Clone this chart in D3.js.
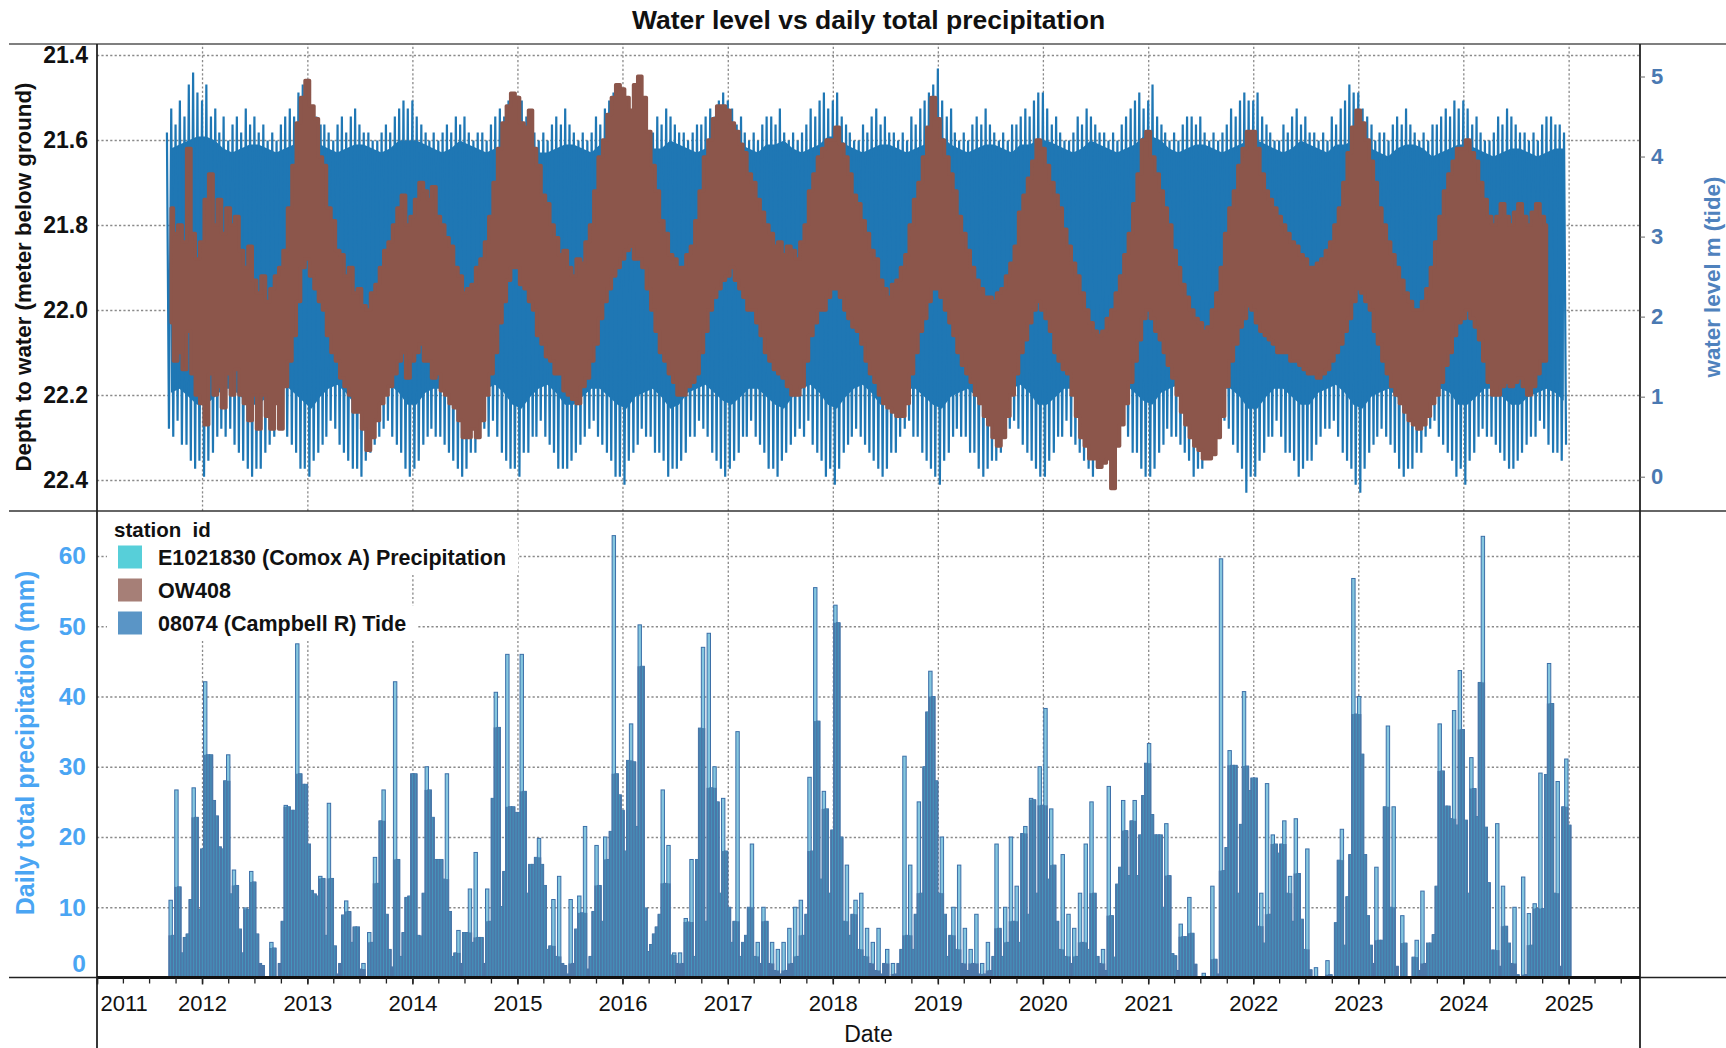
<!DOCTYPE html>
<html><head><meta charset="utf-8">
<script src="https://cdn.jsdelivr.net/npm/d3@7"></script>
<style>
body{margin:0;background:#fff}
svg{display:block}
text{font-family:"Liberation Sans",Arial,Helvetica,sans-serif}
</style>
</head><body>
<svg id="c" width="1726" height="1048"></svg>
<script>
// ---------------- DATA ----------------
const yearTicks = ["2011","2012","2013","2014","2015","2016","2017","2018","2019","2020","2021","2022","2023","2024","2025"];
const depthTicks = [21.4,21.6,21.8,22.0,22.2,22.4];
const tideTicks = [0,1,2,3,4,5];
const precipTicks = [0,10,20,30,40,50,60];
const legendTitle = "station\u00a0\u00a0id";
const legendLabels = ["E1021830 (Comox A) Precipitation","OW408","08074 (Campbell R) Tide"];
const legendColors = ["#57cfd9","#a67f77","#5a95c6"];

// 08074 (Campbell R) tide: semi-monthly spring-tide highs / lows (m), from 2011-09-01, samples on 1st & 16th
const tideHi = [
 4.3,4.6,4.4,4.7,4.5,4.9,5.05,4.8,
 4.7,4.9,4.5,4.6,4.3,4.5,4.2,4.4,4.5,4.3,4.6,4.4,4.5,4.3,4.4,4.2,4.3,4.2,4.4,4.5,4.6,4.5,4.8,4.9,
 4.8,4.6,4.5,4.4,4.4,4.3,4.2,4.4,4.5,4.3,4.5,4.6,4.4,4.3,4.3,4.2,4.2,4.3,4.4,4.3,4.5,4.6,4.7,4.6,
 4.7,4.5,4.4,4.3,4.2,4.3,4.2,4.3,4.4,4.3,4.5,4.4,4.5,4.3,4.2,4.3,4.3,4.2,4.4,4.5,4.6,4.5,4.7,4.8,
 4.6,4.7,4.5,4.3,4.3,4.2,4.3,4.2,4.4,4.5,4.4,4.6,4.4,4.3,4.2,4.3,4.2,4.3,4.5,4.4,4.6,4.7,4.8,4.7,
 4.8,4.6,4.5,4.4,4.3,4.4,4.2,4.3,4.5,4.4,4.6,4.5,4.4,4.3,4.3,4.2,4.3,4.4,4.4,4.5,4.6,4.5,4.7,4.8,
 4.7,4.6,4.4,4.5,4.3,4.2,4.3,4.2,4.4,4.5,4.5,4.4,4.6,4.3,4.2,4.3,4.2,4.3,4.4,4.6,4.5,4.7,4.8,4.6,
 4.7,4.8,4.5,4.4,4.3,4.2,4.2,4.4,4.3,4.5,4.6,4.4,4.5,4.3,4.3,4.2,4.3,4.2,4.5,4.4,4.6,4.7,4.8,4.9,
 5.1,4.7,4.5,4.6,4.3,4.2,4.3,4.2,4.4,4.5,4.4,4.6,4.4,4.3,4.2,4.3,4.2,4.4,4.4,4.5,4.6,4.5,4.7,4.8,
 4.8,4.6,4.4,4.5,4.3,4.2,4.2,4.3,4.5,4.4,4.6,4.5,4.4,4.3,4.3,4.2,4.3,4.2,4.4,4.5,4.6,4.7,4.8,4.6,
 4.7,4.9,4.5,4.4,4.3,4.2,4.3,4.2,4.4,4.5,4.5,4.4,4.5,4.3,4.2,4.3,4.2,4.3,4.4,4.6,4.5,4.7,4.8,4.7,
 4.7,4.8,4.5,4.4,4.3,4.2,4.2,4.4,4.3,4.5,4.6,4.4,4.5,4.3,4.3,4.2,4.3,4.2,4.5,4.4,4.6,4.7,4.9,4.8,
 4.8,4.6,4.5,4.4,4.2,4.3,4.3,4.2,4.4,4.5,4.4,4.6,4.4,4.3,4.2,4.3,4.2,4.4,4.4,4.5,4.6,4.5,4.7,4.6,
 4.7,4.6,4.4,4.5,4.3,4.2,4.2,4.3,4.5,4.4,4.6,4.5,4.4,4.3,4.3,4.2,4.3,4.2,4.4,4.5,4.5,4.4,4.4,4.3
];
const tideLo = [
 0.6,0.5,0.7,0.4,0.4,0.2,0.1,0.2,
 0.0,0.2,0.3,0.5,0.6,0.5,0.6,0.4,0.3,0.2,0.1,0.0,0.1,0.1,0.3,0.4,0.5,0.7,0.6,0.5,0.4,0.3,0.1,0.1,
 0.0,0.2,0.3,0.4,0.5,0.7,0.6,0.4,0.3,0.2,0.1,0.1,0.0,0.2,0.3,0.4,0.5,0.6,0.7,0.5,0.4,0.3,0.1,0.0,
 0.1,0.2,0.4,0.5,0.6,0.5,0.5,0.4,0.3,0.2,0.1,0.0,0.1,0.3,0.3,0.5,0.6,0.5,0.7,0.5,0.3,0.2,0.1,0.1,
 0.0,0.3,0.3,0.5,0.5,0.7,0.5,0.4,0.3,0.1,0.1,0.1,0.2,0.3,0.4,0.5,0.6,0.7,0.5,0.4,0.3,0.2,0.0,0.0,
 -0.1,0.2,0.3,0.4,0.6,0.5,0.5,0.3,0.3,0.2,0.0,0.1,0.1,0.2,0.3,0.5,0.5,0.7,0.6,0.5,0.3,0.2,0.1,0.0,
 0.1,0.2,0.3,0.5,0.5,0.7,0.5,0.4,0.3,0.1,0.1,0.0,0.2,0.3,0.4,0.5,0.6,0.5,0.7,0.4,0.3,0.2,0.0,0.1,
 -0.1,0.1,0.3,0.4,0.5,0.6,0.5,0.4,0.3,0.2,0.1,0.0,0.1,0.3,0.3,0.5,0.6,0.7,0.5,0.5,0.3,0.2,0.1,0.0,
 -0.1,0.2,0.3,0.5,0.6,0.5,0.5,0.3,0.3,0.1,0.0,0.1,0.2,0.2,0.3,0.5,0.6,0.7,0.6,0.4,0.3,0.2,0.1,0.0,
 0.0,0.2,0.3,0.5,0.5,0.7,0.5,0.4,0.3,0.2,0.1,0.0,0.1,0.2,0.4,0.5,0.6,0.5,0.7,0.5,0.3,0.3,0.1,0.0,
 0.0,0.1,0.3,0.4,0.6,0.5,0.5,0.4,0.3,0.2,0.0,0.1,0.1,0.3,0.3,0.5,0.5,0.7,0.6,0.4,0.3,0.1,-0.2,0.0,
 0.0,0.2,0.3,0.5,0.5,0.7,0.5,0.3,0.3,0.2,0.0,0.1,0.2,0.2,0.4,0.5,0.6,0.6,0.7,0.5,0.3,0.2,0.1,-0.1,
 -0.2,0.1,0.3,0.4,0.5,0.6,0.5,0.4,0.3,0.1,0.0,0.1,0.1,0.3,0.3,0.5,0.6,0.7,0.5,0.4,0.3,0.2,0.0,0.1,
 -0.1,0.2,0.3,0.5,0.6,0.5,0.5,0.4,0.3,0.2,0.1,0.1,0.2,0.3,0.4,0.5,0.5,0.7,0.6,0.4,0.3,0.3,0.2,0.4
];
// tide: monthly dense-core (neap-tide) high / low, from Sep 2011
const tideCoreHi = [
 4.1,4.15,4.2,4.25,
 4.25,4.2,4.1,4.05,4.1,4.15,4.15,4.1,4.05,4.1,4.15,4.25,
 4.25,4.15,4.1,4.05,4.1,4.15,4.15,4.1,4.05,4.1,4.2,4.2,
 4.2,4.15,4.1,4.05,4.1,4.2,4.15,4.1,4.05,4.1,4.15,4.25,
 4.2,4.15,4.05,4.05,4.1,4.15,4.15,4.1,4.05,4.15,4.2,4.25,
 4.25,4.15,4.1,4.1,4.1,4.2,4.15,4.1,4.05,4.1,4.15,4.2,
 4.2,4.15,4.1,4.05,4.15,4.15,4.2,4.1,4.05,4.1,4.15,4.25,
 4.25,4.15,4.1,4.05,4.1,4.15,4.15,4.1,4.05,4.1,4.15,4.25,
 4.25,4.15,4.1,4.05,4.1,4.15,4.15,4.1,4.05,4.15,4.15,4.2,
 4.2,4.15,4.1,4.05,4.1,4.2,4.15,4.1,4.05,4.1,4.15,4.25,
 4.25,4.2,4.1,4.05,4.1,4.15,4.15,4.1,4.05,4.1,4.15,4.2,
 4.2,4.15,4.1,4.05,4.1,4.2,4.15,4.1,4.05,4.15,4.15,4.2,
 4.2,4.1,4.05,4.0,4.1,4.15,4.15,4.1,4.0,4.05,4.1,4.15,
 4.15,4.1,4.05,4.0,4.05,4.1,4.1,4.05,4.0,4.05,4.1,4.1
];
const tideCoreLo = [
 1.05,1.1,1.0,0.9,
 0.9,1.0,1.1,1.1,1.0,0.9,0.9,1.0,1.1,1.15,1.05,0.95,
 0.85,1.0,1.1,1.15,1.05,0.9,0.9,1.0,1.1,1.15,1.05,0.9,
 0.9,1.05,1.1,1.1,1.0,0.9,0.85,1.0,1.1,1.15,1.05,0.9,
 0.85,1.0,1.1,1.15,1.05,0.9,0.9,1.0,1.1,1.1,1.0,0.9,
 0.85,1.0,1.05,1.1,1.0,0.85,0.9,1.05,1.1,1.15,1.05,0.95,
 0.9,1.0,1.1,1.1,1.0,0.9,0.85,1.0,1.1,1.15,1.05,0.9,
 0.85,1.0,1.1,1.15,1.05,0.9,0.9,1.0,1.1,1.1,1.0,0.9,
 0.85,1.0,1.05,1.1,1.0,0.85,0.9,1.05,1.1,1.15,1.05,0.9,
 0.9,1.0,1.1,1.1,1.0,0.9,0.85,1.0,1.1,1.15,1.05,0.95,
 0.9,1.05,1.1,1.15,1.05,0.9,0.9,1.0,1.1,1.1,1.0,0.85,
 0.85,1.0,1.1,1.1,1.0,0.9,0.9,1.05,1.1,1.15,1.05,0.9,
 0.85,1.0,1.05,1.1,1.0,0.9,0.9,1.0,1.1,1.1,1.05,0.9,
 0.9,1.0,1.1,1.1,1.0,0.9,0.9,1.0,1.05,1.1,1.05,0.95
];
// OW408 depth to water (m below ground): semi-monthly shallowest / deepest, from 2011-09-16
const owTop = [
 21.76,21.82,21.80,21.84,21.62,21.82,21.88,
 21.84,21.74,21.68,21.80,21.74,21.82,21.76,21.80,21.78,21.86,21.90,21.85,21.93,21.96,21.92,21.98,21.95,21.92,21.90,21.86,21.76,21.66,21.56,21.50,
 21.46,21.52,21.55,21.64,21.66,21.76,21.79,21.86,21.87,21.92,21.90,21.96,21.95,21.99,22.00,21.96,21.94,21.90,21.86,21.84,21.80,21.76,21.73,21.80,
 21.78,21.74,21.70,21.72,21.74,21.71,21.78,21.80,21.83,21.85,21.90,21.92,21.96,21.95,21.94,21.90,21.88,21.84,21.78,21.70,21.62,21.56,21.52,21.49,
 21.50,21.56,21.57,21.53,21.62,21.66,21.73,21.75,21.80,21.83,21.87,21.86,21.90,21.92,21.88,21.89,21.84,21.80,21.72,21.64,21.60,21.54,21.50,21.47,
 21.48,21.50,21.53,21.47,21.45,21.50,21.58,21.66,21.72,21.79,21.82,21.87,21.88,21.90,21.90,21.87,21.85,21.79,21.72,21.64,21.60,21.55,21.52,21.52,
 21.53,21.56,21.58,21.61,21.63,21.68,21.70,21.74,21.77,21.80,21.82,21.85,21.84,21.87,21.85,21.86,21.88,21.84,21.80,21.72,21.68,21.64,21.62,21.60,
 21.60,21.57,21.61,21.64,21.68,21.73,21.75,21.79,21.82,21.86,21.88,21.93,21.95,21.97,21.94,21.93,21.90,21.87,21.80,21.74,21.70,21.64,21.57,21.50,
 21.55,21.60,21.64,21.68,21.72,21.78,21.82,21.86,21.90,21.93,21.95,21.97,21.97,21.98,21.96,21.95,21.92,21.89,21.85,21.77,21.73,21.69,21.65,21.60,
 21.62,21.66,21.70,21.73,21.76,21.81,21.85,21.89,21.92,21.96,22.00,22.03,22.05,22.06,22.05,22.02,22.00,21.96,21.92,21.87,21.82,21.75,21.68,21.60,
 21.58,21.64,21.68,21.72,21.76,21.80,21.86,21.90,21.94,21.97,22.00,22.02,22.03,22.05,22.04,22.00,21.96,21.90,21.82,21.76,21.72,21.66,21.62,21.58,
 21.58,21.62,21.68,21.72,21.74,21.76,21.78,21.80,21.82,21.84,21.85,21.87,21.88,21.90,21.90,21.89,21.88,21.86,21.84,21.80,21.76,21.70,21.63,21.57,
 21.53,21.56,21.60,21.65,21.70,21.76,21.80,21.84,21.87,21.90,21.93,21.96,21.98,22.00,22.00,21.98,21.95,21.90,21.84,21.78,21.72,21.68,21.65,21.62,
 21.62,21.60,21.63,21.65,21.70,21.74,21.78,21.80,21.78,21.75,21.78,21.80,21.77,21.75,21.78,21.80,21.77,21.75,21.78,21.80
];
const owBottom = [
 22.03,22.12,22.10,22.14,22.05,22.15,22.20,
 22.22,22.27,22.15,22.20,22.18,22.23,22.15,22.20,22.14,22.20,22.22,22.26,22.20,22.28,22.20,22.25,22.28,22.22,22.28,22.18,22.12,22.06,21.98,21.90,
 21.88,21.92,21.95,21.98,22.00,22.06,22.10,22.12,22.16,22.18,22.20,22.24,22.24,22.28,22.33,22.30,22.26,22.22,22.20,22.18,22.15,22.12,22.10,22.16,
 22.12,22.10,22.08,22.12,22.12,22.16,22.15,22.19,22.20,22.22,22.23,22.26,22.30,22.30,22.28,22.30,22.26,22.20,22.15,22.10,22.03,21.98,21.93,21.90,
 21.90,21.94,21.95,21.98,22.00,22.06,22.08,22.11,22.12,22.15,22.15,22.19,22.20,22.21,22.22,22.18,22.16,22.12,22.08,22.02,21.98,21.95,21.92,21.90,
 21.88,21.86,21.85,21.88,21.88,21.90,21.95,22.00,22.05,22.10,22.12,22.15,22.17,22.20,22.20,22.18,22.17,22.15,22.10,22.05,22.00,21.97,21.95,21.93,
 21.92,21.90,21.93,21.95,21.97,22.00,22.00,22.03,22.06,22.10,22.12,22.14,22.15,22.16,22.18,22.20,22.20,22.18,22.12,22.06,22.03,22.00,22.00,21.97,
 21.95,21.95,21.97,22.00,22.02,22.04,22.05,22.08,22.12,22.15,22.17,22.20,22.22,22.23,22.24,22.25,22.25,22.22,22.15,22.10,22.05,22.02,21.98,21.95,
 21.95,21.97,22.00,22.03,22.06,22.10,22.13,22.15,22.17,22.20,22.22,22.25,22.27,22.30,22.32,22.30,22.25,22.20,22.15,22.10,22.07,22.03,22.00,21.98,
 22.00,22.02,22.05,22.10,22.12,22.14,22.15,22.20,22.25,22.30,22.32,22.35,22.35,22.37,22.36,22.35,22.42,22.32,22.27,22.22,22.17,22.12,22.07,22.02,
 22.00,22.02,22.05,22.07,22.10,22.13,22.16,22.20,22.24,22.27,22.30,22.32,22.33,22.35,22.35,22.34,22.30,22.25,22.18,22.12,22.08,22.04,22.02,21.99,
 22.00,22.03,22.05,22.06,22.07,22.08,22.10,22.10,22.10,22.12,22.12,22.13,22.14,22.15,22.15,22.16,22.15,22.14,22.12,22.10,22.08,22.05,22.02,21.98,
 21.95,21.96,21.98,22.00,22.05,22.08,22.12,22.15,22.18,22.20,22.22,22.24,22.26,22.27,22.28,22.27,22.25,22.22,22.20,22.17,22.13,22.10,22.06,22.03,
 22.02,22.00,22.02,22.04,22.07,22.12,22.17,22.20,22.20,22.18,22.17,22.18,22.17,22.16,22.18,22.20,22.18,22.15,22.12,22.12
];
// E1021830 (Comox A) daily total precipitation (mm), one bar every 10 days from 2011-09-14
const precipMM = [
 11,6,26.7,12.9,3.5,5.7,6.2,11.1,27,22.8,
 9.7,18.3,42.1,31.7,31.7,25.2,23,18.6,18.3,28,
 31.7,11.9,15.3,13.1,6.9,3.5,9.9,9.7,15.1,13.6,
 6.2,2,1.7,0,0,5,4.2,0,2,8,
 24.5,24.3,23.8,23.8,47.5,29,27.5,27.5,19,12.4,
 11.9,11.6,14.4,14.1,6,24.8,14.1,4.5,0.5,2,
 8.9,10.9,9.4,5,7.2,7.2,1.2,2,0,6.4,
 5,17.1,13.4,22.3,26.7,9,4,1.5,42.1,16.8,
 3,6.4,11.4,11.6,29,29,6,5.9,12,30,
 26.7,22.8,16.8,16.8,16.8,14,29,9.4,3,3.5,
 6.7,2,6.4,6.4,12.6,5,17.8,5.7,5.7,2,
 12.6,8,25.5,40.6,35.6,10.1,15.1,46,24.3,24.3,
 23.5,23.5,46,26.5,12,16.1,16.1,17.1,19.8,16.1,
 13.1,4,4.5,11.1,3,14.4,2,1.7,0.5,11.1,
 2,6.9,11.6,9.2,21.5,1.2,3,9.4,18.8,13.1,
 8,20,16.8,20.8,62.9,29,26,23.8,18,30.9,
 36.1,30.7,21.5,50.2,44.3,9.9,3.7,4.7,6.2,7.2,
 9,26.7,13.4,18.8,3.2,3.5,2,3.5,2,8.4,
 7.9,16.8,3,16.8,35.5,47,8,49,27,30,
 25,12,25.5,18,10,5,8,35,3,5,
 6,10,19,3,5,2,10,8,2,5,
 1,4,0.5,5,1,7,2,10,3,11,
 6,9,28.5,18,55.5,36.5,14,26.5,24,12,
 21,53,50.5,20,8,16,6,9,11,4,
 12,3,7,2,5,1,7,0.5,2,4,
 0,2,0.5,2,4,31.5,6,16,4,9,
 25,12,30,37.8,43.6,40,28,12,20,9,
 3,6,10,4,16,2,7,1,4,2,
 9,0.5,2,0.5,5,1,3,19,7,3,
 10,5,20,8,13,5,20.5,21.5,9,25.5,
 25.3,12,30,24.5,38.3,14,24,16,8,4,
 17.5,3,9,2,7,3,12,5,19,4,
 25,12,3,2,4,1,27.2,8.8,2.9,13.3,
 15.7,25.2,20.9,14.5,22.3,25.2,14.5,20.3,25.9,30.5,
 33.3,23.2,20.3,20.3,20.3,10,21.9,14.5,3.4,3.1,
 1,7.6,5.8,5.8,11.4,6.3,1.9,0,0,0.6,
 0,0,13,2.6,0.5,59.6,15.2,18.5,32.3,30.2,
 30.2,12,21.8,40.7,30.1,26.6,28.4,28.4,7.3,12,
 4.9,27.6,9,20.3,19,17.7,19,22.3,12,14.4,
 8,22.6,14.8,8.3,4,18.3,1.1,0,1.4,0,
 0,0,2.4,0.4,0,7.8,16.7,21.1,4.6,11.5,
 17.5,56.8,37.5,40,31.8,17.5,8.8,4.6,2,15.7,
 5.3,5.3,24.3,35.8,10,24.3,1.6,0,8.8,4.9,
 0,0,2.9,5.3,1,12.3,2,4.9,4.9,6.1,
 13,36.1,29.4,24.4,24.4,22.6,38,21.7,43.7,35.3,
 22.4,12,31.3,26.9,22.9,42,62.8,21.4,13.5,3.9,
 3.9,21.9,1.6,13,7.3,4.9,2,10,0.4,0,
 14.3,0.4,9.1,4.6,10.5,9.8,29.1,9.8,28.9,44.7,
 39,12,27.9,1.6,24.3,31.1,21.7
];

// ---------------- LAYOUT ----------------
const L = 97, R = 1640, T = 44, MID = 511, B = 977.5;
const FONT = '"Liberation Sans",Arial,sans-serif';
const svg = d3.select("#c");

const x = d3.scaleTime().domain([new Date(2011,0,1), new Date(2025,8,6)]).range([L, R]);
const yDepth = d3.scaleLinear().domain([21.4, 22.4]).range([55, 480]);
const yTide = d3.scaleLinear().domain([0, 5]).range([476.7, 76.5]);
const yPrec = d3.scaleLinear().domain([0, 60]).range([B, 556]);

const tideDate = i => new Date(2011, 8 + Math.floor(i/2), i % 2 === 0 ? 1 : 16);
const owDate = j => new Date(2011, 8 + Math.floor((j+1)/2), (j+1) % 2 === 0 ? 1 : 16);
const coreDate = m => new Date(2011, 8 + m, 15);
const precipDate = k => d3.timeDay.offset(new Date(2011, 8, 14), 10*k);

const defs = svg.append("defs");
defs.append("clipPath").attr("id","clipTop").append("rect").attr("x",L).attr("y",T).attr("width",R-L).attr("height",MID-T);
defs.append("clipPath").attr("id","clipBot").append("rect").attr("x",L).attr("y",MID).attr("width",R-L).attr("height",B-MID);

function styleGrid(g){
  g.select(".domain").remove();
  g.selectAll(".tick line").attr("stroke","#8a8a8a").attr("stroke-width",1.3).attr("stroke-dasharray","2.2,2.2");
  g.selectAll(".tick text").remove();
}
const yearTickDates = yearTicks.map(s => new Date(+s, 0, 1));

// ---------- top panel grid ----------
svg.append("g").attr("transform",`translate(0,${MID})`)
  .call(d3.axisBottom(x).tickValues(yearTickDates.slice(1)).tickSize(-(MID-T)).tickFormat(""))
  .call(styleGrid);
svg.append("g").attr("transform",`translate(${L},0)`)
  .call(d3.axisLeft(yDepth).tickValues(depthTicks).tickSize(-(R-L)).tickFormat(""))
  .call(styleGrid);

// ---------- bottom panel grid ----------
svg.append("g").attr("transform",`translate(0,${B})`)
  .call(d3.axisBottom(x).tickValues(yearTickDates.slice(1)).tickSize(-(B-MID)).tickFormat(""))
  .call(styleGrid);
svg.append("g").attr("transform",`translate(${L},0)`)
  .call(d3.axisLeft(yPrec).tickValues(precipTicks.slice(1)).tickSize(-(R-L)).tickFormat(""))
  .call(styleGrid);

// ---------- tide ----------
const topG = svg.append("g").attr("clip-path","url(#clipTop)");
const nCore = tideCoreHi.length;
topG.append("path")
  .datum(d3.range(nCore))
  .attr("fill","#1f77b4")
  .attr("d", d3.area().x(m => x(coreDate(m))).y0(m => yTide(tideCoreLo[m])).y1(m => yTide(tideCoreHi[m])));
const zz = [];
const nTide = Math.min(tideHi.length, tideLo.length);
for (let i = 0; i < nTide; i++) {
  zz.push([x(tideDate(i)), yTide(tideHi[i])]);
  zz.push([x(d3.timeDay.offset(tideDate(i), 7)), yTide(tideLo[i])]);
}
topG.append("path").attr("d", d3.line()(zz)).attr("fill","none")
  .attr("stroke","#1f77b4").attr("stroke-width",2.2).attr("stroke-linejoin","miter");

// ---------- OW408 ----------
const nOw = Math.min(owTop.length, owBottom.length);
topG.append("path")
  .datum(d3.range(nOw))
  .attr("fill","#8c564b").attr("stroke","#8c564b").attr("stroke-width",3.5).attr("stroke-linejoin","round")
  .attr("d", d3.area().curve(d3.curveStep).x(j => x(owDate(j))).y0(j => yDepth(owBottom[j])).y1(j => yDepth(owTop[j])));

// ---------- precipitation bars ----------
const botG = svg.append("g").attr("clip-path","url(#clipBot)");
const bw = 3.4;
const bars = precipMM.map((v,k) => ({k, v, cx: x(precipDate(k)),
  over: Math.min(v, Math.max(k>0?precipMM[k-1]:0, k<precipMM.length-1?precipMM[k+1]:0))}))
  .filter(d => d.v > 0);
botG.append("g").selectAll("rect").data(bars).join("rect")
  .attr("x", d => d.cx - bw/2).attr("width", bw)
  .attr("y", d => yPrec(d.v)).attr("height", d => B - yPrec(d.v))
  .attr("fill","#84c6df").attr("stroke","#3c6fa8").attr("stroke-width",1);
botG.append("g").selectAll("rect").data(bars.filter(d => d.over > 0)).join("rect")
  .attr("x", d => d.cx - bw/2 - 0.5).attr("width", bw + 1)
  .attr("y", d => yPrec(d.over)).attr("height", d => B - yPrec(d.over))
  .attr("fill","#4b77a8");
botG.append("g").selectAll("line").data(bars.filter(d => d.over > 2)).join("line")
  .attr("x1", d => d.cx).attr("x2", d => d.cx)
  .attr("y1", B).attr("y2", d => yPrec(d.over))
  .attr("stroke","#3fbfd6").attr("stroke-width",0.8).attr("opacity",0.55);

// ---------- legend ----------
const lg = svg.append("g");
const lgBg = lg.append("g");
const lgTitle = lg.append("text").attr("x",114).attr("y",537).text(legendTitle)
  .attr("font-size",20.5).attr("font-weight","bold").attr("fill","#111");
const rowsY = [557, 590, 623];
const rowG = lg.selectAll("g.row").data(legendLabels).join("g").attr("class","row");
rowG.append("rect").attr("class","bg");
rowG.append("rect").attr("x",118).attr("y",(d,i)=>rowsY[i]-11.5).attr("width",24).attr("height",23)
  .attr("fill",(d,i)=>legendColors[i]);
rowG.append("text").attr("x",158).attr("y",(d,i)=>rowsY[i]+7.5).text(d=>d)
  .attr("font-size",21.5).attr("font-weight","bold").attr("fill","#111");
rowG.each(function(d,i){
  const tw = d3.select(this).select("text").node().getComputedTextLength();
  const w = Math.max(158 + tw + 12, 330) - 107;
  d3.select(this).select("rect.bg").attr("x",107).attr("y",rowsY[i]-17).attr("width",w).attr("height",34).attr("fill","#fff");
});
const ttw = lgTitle.node().getComputedTextLength();
lgBg.append("rect").attr("x",107).attr("y",513).attr("width",Math.max(ttw+20, 400)).attr("height",28).attr("fill","#fff");

// ---------- frame ----------
const fr = svg.append("g").attr("stroke","#222").attr("fill","none");
fr.append("path").attr("d",`M9,${T}H1726`).attr("stroke-width",1.6).attr("stroke","#555");
fr.append("path").attr("d",`M9,${MID}H1726`).attr("stroke-width",1.6).attr("stroke","#333");
fr.append("path").attr("d",`M${L},${T}V1048`).attr("stroke-width",1.8);
fr.append("path").attr("d",`M${R},${T}V1048`).attr("stroke-width",1.8);
fr.append("path").attr("d",`M9,${B}H1726`).attr("stroke-width",1.4);
fr.append("path").attr("d",`M${L},${B}H${R}`).attr("stroke-width",2.8).attr("stroke","#111");

// ---------- axes ----------
const axL = svg.append("g").attr("transform",`translate(${L},0)`)
  .call(d3.axisLeft(yDepth).tickValues(depthTicks).tickFormat(d3.format(".1f")).tickSize(0).tickPadding(9));
axL.select(".domain").remove();
axL.selectAll("text").attr("font-size",23).attr("font-weight","bold").attr("fill","#111").attr("font-family",FONT);

const axR = svg.append("g").attr("transform",`translate(${R},0)`)
  .call(d3.axisRight(yTide).tickValues(tideTicks).tickFormat(d3.format("d")).tickSize(5).tickPadding(6));
axR.select(".domain").remove();
axR.selectAll("line").attr("stroke","#666");
axR.selectAll("text").attr("font-size",22).attr("font-weight","bold").attr("fill","#4a79b2").attr("font-family",FONT);

const axP = svg.append("g").attr("transform",`translate(${L},0)`)
  .call(d3.axisLeft(yPrec).tickValues(precipTicks).tickFormat(d3.format("d")).tickSize(0).tickPadding(11));
axP.select(".domain").remove();
axP.selectAll("text").attr("font-size",24.5).attr("font-weight","bold").attr("fill","#4aa5f3").attr("font-family",FONT);
axP.selectAll(".tick").filter(d => d === 0).select("text").attr("dy","-0.25em");

const axMinor = svg.append("g").attr("transform",`translate(0,${B})`)
  .call(d3.axisBottom(x).ticks(d3.timeMonth.every(3)).tickSize(6).tickFormat(""));
axMinor.select(".domain").remove();
axMinor.selectAll("line").attr("stroke","#222").attr("stroke-width",1.3);

const axX = svg.append("g").attr("transform",`translate(0,${B})`)
  .call(d3.axisBottom(x).tickValues(yearTickDates).tickFormat((d,i)=>yearTicks[i]).tickSize(7).tickPadding(6));
axX.select(".domain").remove();
axX.selectAll("line").attr("stroke","#222").attr("stroke-width",1.5);
axX.selectAll("text").attr("font-size",22).attr("fill","#111").attr("font-family",FONT)
  .attr("y",33).attr("dy",0);
axX.selectAll(".tick").filter((d,i)=>i===0).select("text").attr("text-anchor","start").attr("x",3);

// ---------- titles ----------
svg.append("text").attr("x",(L+R)/2).attr("y",29).attr("text-anchor","middle")
  .attr("font-size",26.5).attr("font-weight","bold").attr("fill","#111").text("Water level vs daily total precipitation");
svg.append("text").attr("transform","translate(31,277) rotate(-90)").attr("text-anchor","middle")
  .attr("font-size",22.3).attr("font-weight","bold").attr("fill","#111").text("Depth to water (meter below ground)");
svg.append("text").attr("transform","translate(34,743) rotate(-90)").attr("text-anchor","middle")
  .attr("font-size",25).attr("font-weight","bold").attr("fill","#4aa5f3").text("Daily total precipitation (mm)");
svg.append("text").attr("transform","translate(1720,277) rotate(-90)").attr("text-anchor","middle")
  .attr("font-size",22.3).attr("font-weight","bold").attr("fill","#4f82bd").text("water level m (tide)");
svg.append("text").attr("x",(L+R)/2).attr("y",1042).attr("text-anchor","middle")
  .attr("font-size",23).attr("fill","#111").text("Date");
</script>
</body></html>
